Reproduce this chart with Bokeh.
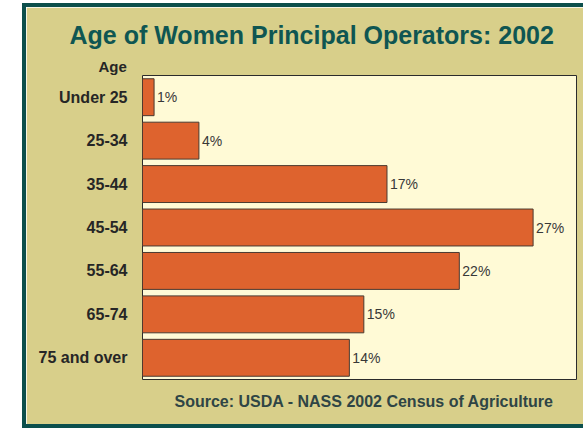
from bokeh.plotting import figure
from bokeh.models import ColumnDataSource, FactorRange, Range1d, LabelSet, Title
from bokeh.core.properties import value
from bokeh.embed import file_html
from bokeh.resources import INLINE

# ---- data ----
age_groups = ["Under 25", "25-34", "35-44", "45-54", "55-64", "65-74", "75 and over"]
shares = [0.8, 3.9, 16.9, 27.0, 21.9, 15.3, 14.3]
share_labels = ["1%", "4%", "17%", "27%", "22%", "15%", "14%"]
title_text = "Age of Women Principal Operators: 2002"
axis_header = "Age"
source_text = "Source:  USDA - NASS 2002 Census of Agriculture"

TAN = "#D8CF8A"
CREAM = "#FFFAD6"
TEAL = "#0C4F4C"
ORANGE = "#DE632E"

src = ColumnDataSource(dict(age=age_groups, share=shares, label=share_labels))

p = figure(width=561, height=425, output_backend="svg", toolbar_location=None,
           y_range=FactorRange(*reversed(age_groups)), x_range=Range1d(0, 30),
           x_axis_location=None,
           min_border_left=116, min_border_right=11, min_border_top=68,
           min_border_bottom=53)
p.margin = (3, 0, 0, 22)
p.styles = {"border-left": f"4px solid {TEAL}", "border-top": f"4px solid {TEAL}",
            "border-bottom": f"4px solid {TEAL}"}
p.border_fill_color = TAN
p.background_fill_color = CREAM
p.outline_line_color = "#2b2b2b"
p.outline_line_width = 1
p.xgrid.visible = False
p.ygrid.visible = False

p.hbar(y="age", right="share", left=0, height=0.85, source=src,
       fill_color=ORANGE, line_color="#4a3a30", line_width=1)

labels = LabelSet(x="share", y="age", text="label", source=src, x_offset=3,
                  text_baseline="middle", text_align="left",
                  text_font=value("Liberation Sans"), text_font_size="14px",
                  text_color="#383838")
p.add_layout(labels)

ax = p.yaxis[0]
ax.axis_line_color = None
ax.major_tick_line_color = None
ax.minor_tick_line_color = None
ax.major_tick_out = 0
ax.major_tick_in = 0
ax.major_label_standoff = 15
ax.major_label_text_font = "Liberation Sans"
ax.major_label_text_font_style = "bold"
ax.major_label_text_font_size = "16px"
ax.major_label_text_color = "#262626"

p.title.text = title_text
p.title.align = "left"
p.title.offset = -73
p.title.standoff = 12
p.title.text_font = "Liberation Sans"
p.title.text_font_style = "bold"
p.title.text_font_size = "25px"
p.title.text_color = "#0F5652"

p.add_layout(Title(text=axis_header, align="left", offset=-44, standoff=2,
                   text_font="Liberation Sans", text_font_style="bold",
                   text_font_size="15px", text_color="#262626"), "above")

p.add_layout(Title(text=source_text, align="left", offset=32, standoff=23,
                   text_font="Liberation Sans", text_font_style="bold",
                   text_font_size="16px", text_color="#2F4545"), "below")

open("out.html", "w").write(file_html(p, INLINE))
